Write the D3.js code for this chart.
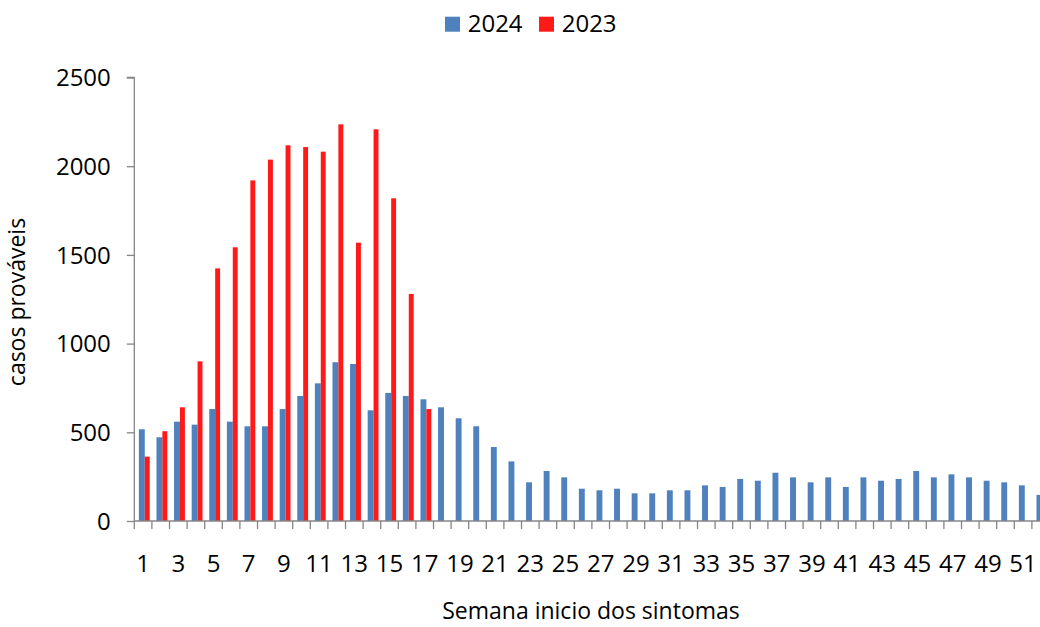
<!DOCTYPE html>
<html>
<head>
<meta charset="utf-8">
<script src="https://cdn.jsdelivr.net/npm/d3@7"></script>
<style>
html,body{margin:0;padding:0;background:#fff;}
svg{display:block;font-family:"Open Sans",sans-serif;}
</style>
</head>
<body>
<svg id="chart" width="1040" height="627"></svg>
<script>
const weeks = d3.range(1, 53);
const series2024 = [517,472,560,543,631,560,534,534,631,705,776,895,885,624,722,705,686,641,579,534,417,336,218,282,246,182,173,182,156,156,173,173,201,192,237,227,272,246,218,246,192,246,227,237,282,246,263,246,227,218,201,147];
const series2023 = [363,506,641,900,1424,1543,1920,2037,2118,2108,2082,2236,1569,2208,1819,1280,631];
const yTicks = [0,500,1000,1500,2000,2500];
const seriesNames = ["2024","2023"];
const colors = {"2024":"#4F81BD","2023":"#FF1A1A"};

(function(){
const svg = d3.select("#chart");
const plotLeft = 134.3, plotBottom = 521, plotTop = 77.5;
const x = d3.scaleBand().domain(weeks).range([plotLeft, plotLeft + 52*17.6]).paddingInner(0).paddingOuter(0);
const y = d3.scaleLinear().domain([0,2500]).range([plotBottom, plotTop]);
const bw = x.bandwidth();

// bars
const g = svg.append("g");
g.selectAll("rect.b24").data(series2024.map((v,i)=>({w:weeks[i],v})))
  .enter().append("rect").attr("class","b24")
  .attr("x", d => x(d.w) + bw*0.26)
  .attr("width", bw*0.335)
  .attr("y", d => y(d.v))
  .attr("height", d => y(0) - y(d.v))
  .attr("fill", colors["2024"]);
g.selectAll("rect.b23").data(series2023.map((v,i)=>({w:weeks[i],v})))
  .enter().append("rect").attr("class","b23")
  .attr("x", d => x(d.w) + bw*0.595)
  .attr("width", bw*0.28)
  .attr("y", d => y(d.v))
  .attr("height", d => y(0) - y(d.v))
  .attr("fill", colors["2023"]);

const axisColor = "#868686";
// y axis
const yAxis = d3.axisLeft(y).tickValues(yTicks).tickFormat(d3.format("d")).tickSize(7.5).tickPadding(16);
const ya = svg.append("g").attr("transform", `translate(${plotLeft},0)`).call(yAxis);
ya.select(".domain").attr("stroke", axisColor).attr("stroke-width",1.3).attr("d", `M-7.5,${plotTop}H0V${plotBottom}`);
ya.selectAll(".tick line").attr("stroke", axisColor).attr("stroke-width",1.3);
ya.selectAll(".tick text").attr("font-size", 24).attr("font-family","Open Sans").attr("fill","#000").attr("dy","0.34em");

// x axis baseline and ticks at band boundaries
svg.append("line").attr("x1", plotLeft).attr("x2", 1040).attr("y1", plotBottom).attr("y2", plotBottom)
  .attr("stroke", axisColor).attr("stroke-width",1.3);
svg.append("g").selectAll("line").data(weeks).enter().append("line")
  .attr("x1", d => x(d) ).attr("x2", d => x(d))
  .attr("y1", plotBottom).attr("y2", plotBottom + 8)
  .attr("stroke", axisColor).attr("stroke-width",1.3);
svg.append("g").selectAll("text").data(weeks.filter(w => w % 2 === 1)).enter().append("text")
  .attr("x", d => x(d) + bw/2).attr("y", 571.5)
  .attr("text-anchor","middle").attr("font-size",24).attr("fill","#000")
  .text(d => d);

// axis titles
svg.append("text").attr("x", 591).attr("y", 619).attr("text-anchor","middle")
  .attr("font-size",23).attr("fill","#000").text("Semana inicio dos sintomas");
svg.append("text").attr("transform","translate(25,302) rotate(-90)").attr("text-anchor","middle")
  .attr("font-size",23).attr("fill","#000").text("casos prováveis");

// legend
const legX = [445, 539];
const leg = svg.append("g");
seriesNames.forEach((s,i) => {
  leg.append("rect").attr("x", legX[i]).attr("y", 16.7).attr("width",15).attr("height",15).attr("fill", colors[s]);
  leg.append("text").attr("x", legX[i] + 22.7).attr("y", 32).attr("font-size",24).attr("fill","#000").text(s);
});
})();
</script>
</body>
</html>
